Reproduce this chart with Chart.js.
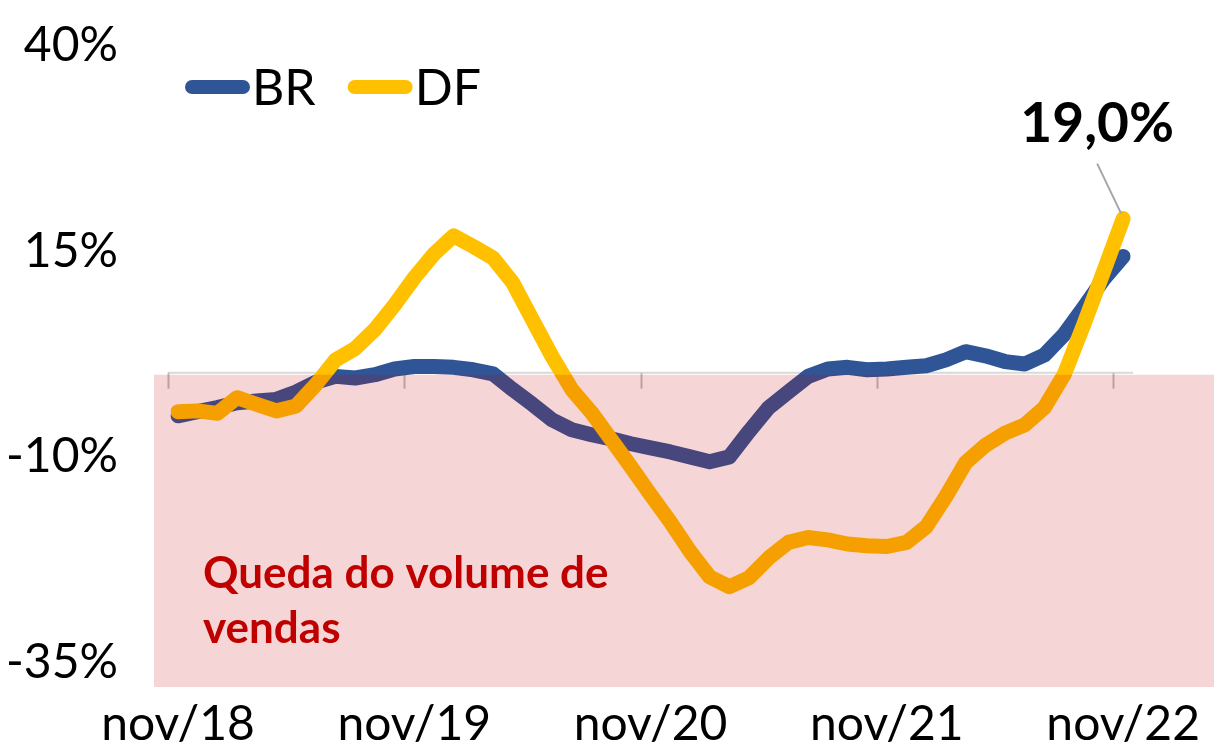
<!DOCTYPE html>
<html>
<head>
<meta charset="utf-8">
<script src="https://cdn.jsdelivr.net/npm/chart.js@4.4.1/dist/chart.umd.min.js"></script>
<style>
  html, body { margin: 0; padding: 0; background: #fff; }
  #wrap { width: 1214px; height: 749px; }
</style>
</head>
<body>
<div id="wrap"><canvas id="chart"></canvas></div>
<script>
const fontFamily = 'Lato, "Open Sans", sans-serif';

const months = [
  'nov/18', 'dez/18', 'jan/19', 'fev/19', 'mar/19', 'abr/19', 'mai/19', 'jun/19', 'jul/19', 'ago/19', 'set/19', 'out/19',
  'nov/19', 'dez/19', 'jan/20', 'fev/20', 'mar/20', 'abr/20', 'mai/20', 'jun/20', 'jul/20', 'ago/20', 'set/20', 'out/20',
  'nov/20', 'dez/20', 'jan/21', 'fev/21', 'mar/21', 'abr/21', 'mai/21', 'jun/21', 'jul/21', 'ago/21', 'set/21', 'out/21',
  'nov/21', 'dez/21', 'jan/22', 'fev/22', 'mar/22', 'abr/22', 'mai/22', 'jun/22', 'jul/22', 'ago/22', 'set/22', 'out/22',
  'nov/22'
];

const brValues = [
  -5.0, -4.5, -4.0, -3.4, -3.2, -3.0, -2.1, -0.9, -0.2, -0.4, 0.0, 0.7,
  1.0, 1.0, 0.9, 0.6, 0.1, -1.8, -3.6, -5.5, -6.7, -7.3, -7.8, -8.4,
  -8.9, -9.4, -10.0, -10.6, -10.0, -6.9, -4.0, -2.1, -0.2, 0.7, 0.9, 0.6,
  0.7, 0.9, 1.1, 1.8, 2.8, 2.3, 1.6, 1.3, 2.4, 4.9, 8.2, 11.6,
  14.4
];

const dfValues = [
  -4.5, -4.4, -4.7, -2.8, -3.6, -4.4, -3.8, -1.2, 1.8, 3.2, 5.5, 8.5,
  11.8, 14.7, 16.9, 15.6, 14.2, 11.2, 6.7, 2.2, -1.8, -4.6, -7.9, -11.2,
  -14.6, -17.9, -21.5, -24.6, -25.8, -24.7, -22.3, -20.4, -19.8, -20.1, -20.6, -20.8,
  -20.9, -20.4, -18.5, -14.8, -10.7, -8.6, -7.1, -6.1, -4.0, 0.0, 6.1, 12.5,
  19.0
];

const yTicks = [40, 15, -10, -35];
const lastLabel = '19,0%';
const zoneText = ['Queda do volume de', 'vendas'];

// draws the zero axis under the lines, then the pink zone, notes and legend on top
const zonePlugin = {
  id: 'zone',
  beforeDatasetsDraw(chart) {
    const {ctx, scales: {x, y}} = chart;
    const half = (x.getPixelForValue(1) - x.getPixelForValue(0)) / 2;
    const y0 = y.getPixelForValue(0) - 2;
    ctx.save();
    ctx.strokeStyle = '#D9D9D9';
    ctx.lineWidth = 2;
    ctx.beginPath();
    ctx.moveTo(x.getPixelForValue(0) - half, y0);
    ctx.lineTo(x.getPixelForValue(months.length - 1) + half, y0);
    ctx.stroke();
    ctx.strokeStyle = '#BFBFBF';
    for (let i = 0; i < months.length; i += 12) {
      const px = Math.round(x.getPixelForValue(i) - half) + 0.5;
      ctx.beginPath();
      ctx.moveTo(px, y0);
      ctx.lineTo(px, y0 + 16);
      ctx.stroke();
    }
    ctx.restore();
  },
  afterDatasetsDraw(chart) {
    const {ctx, chartArea, scales: {x, y}} = chart;
    const y0 = y.getPixelForValue(0);
    const left = chartArea.left - 24;
    ctx.save();
    ctx.fillStyle = 'rgba(192, 0, 0, 0.165)';
    ctx.fillRect(left, y0, chart.width - left, chartArea.bottom - y0);

    ctx.fillStyle = '#C00000';
    ctx.font = 'bold 44px ' + fontFamily;
    ctx.textAlign = 'left';
    ctx.textBaseline = 'alphabetic';
    ctx.fillText(zoneText[0], chartArea.left + 25, 588);
    ctx.fillText(zoneText[1], chartArea.left + 25, 643);

    // label for the last DF value
    const meta = chart.getDatasetMeta(1);
    const pt = meta.data[meta.data.length - 1];
    ctx.strokeStyle = '#A6A6A6';
    ctx.lineWidth = 2;
    ctx.beginPath();
    ctx.moveTo(pt.x - 2, pt.y - 5);
    ctx.lineTo(pt.x - 26, pt.y - 55);
    ctx.stroke();
    ctx.fillStyle = '#000';
    ctx.font = 'bold 55px ' + fontFamily;
    ctx.textAlign = 'center';
    ctx.fillText(lastLabel, pt.x - 26, pt.y - 77);

    // legend
    let lx = chartArea.left + 14;
    const ly = 87;
    ctx.font = '50px ' + fontFamily;
    ctx.textAlign = 'left';
    chart.data.datasets.forEach(ds => {
      ctx.strokeStyle = ds.borderColor;
      ctx.lineWidth = 14;
      ctx.lineCap = 'round';
      ctx.beginPath();
      ctx.moveTo(lx, ly);
      ctx.lineTo(lx + 51, ly);
      ctx.stroke();
      ctx.fillStyle = '#000';
      ctx.fillText(ds.label, lx + 60, 105);
      lx += 60 + ctx.measureText(ds.label).width + 39;
    });
    ctx.restore();
  }
};

new Chart(document.getElementById('chart'), {
  type: 'line',
  data: {
    labels: months,
    datasets: [
      {
        label: 'BR',
        data: brValues,
        borderColor: '#2F5597',
        backgroundColor: '#2F5597',
        borderWidth: 15,
        borderCapStyle: 'round',
        borderJoinStyle: 'round',
        pointRadius: 0,
        tension: 0,
        order: 2
      },
      {
        label: 'DF',
        data: dfValues,
        borderColor: '#FFC000',
        backgroundColor: '#FFC000',
        borderWidth: 15,
        borderCapStyle: 'round',
        borderJoinStyle: 'round',
        pointRadius: 0,
        tension: 0,
        order: 1
      }
    ]
  },
  options: {
    responsive: true,
    maintainAspectRatio: false,
    animation: false,
    layout: {
      padding: { left: 8, right: 89, top: 46, bottom: 0 }
    },
    plugins: {
      legend: { display: false },
      tooltip: { enabled: false }
    },
    scales: {
      x: {
        grid: { display: false, drawTicks: false },
        border: { display: false },
        afterFit: scale => {
          scale.height = 62;
        },
        ticks: {
          autoSkip: false,
          maxRotation: 0,
          minRotation: 0,
          padding: 14,
          color: '#000',
          font: { family: fontFamily, size: 48, lineHeight: 1.0 },
          callback: (val, i) => (i % 12 === 0 ? months[i] : '')
        }
      },
      y: {
        min: -38,
        max: 40,
        grid: { display: false, drawTicks: false },
        border: { display: false },
        afterBuildTicks: scale => {
          scale.ticks = yTicks.map(v => ({ value: v }));
        },
        afterFit: scale => {
          scale.width = 170;
          scale.paddingTop = 0;
          scale.paddingBottom = 0;
        },
        ticks: {
          padding: 60,
          color: '#000',
          font: { family: fontFamily, size: 48 },
          callback: v => v + '%'
        }
      }
    }
  },
  plugins: [zonePlugin]
});
</script>
</body>
</html>
